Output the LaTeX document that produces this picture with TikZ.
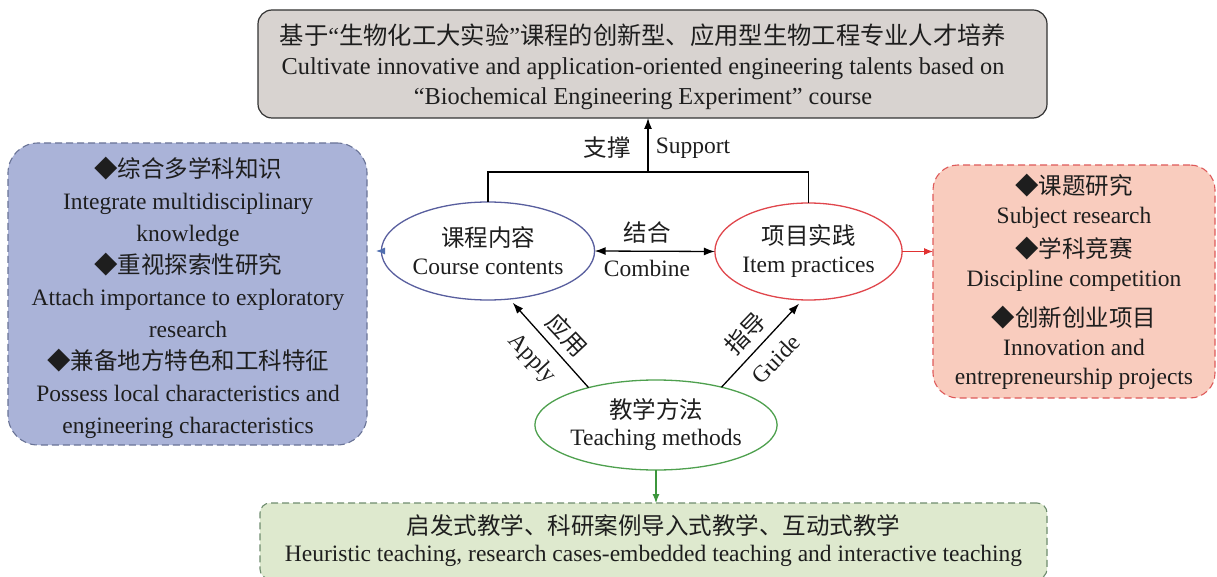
\documentclass[tikz,border=0pt]{standalone}
\usepackage{fontspec}
\setmainfont{Liberation Serif}
\newfontfamily\cjk{Noto Sans CJK SC}
\usetikzlibrary{shapes.geometric,arrows.meta}
\definecolor{txtcol}{RGB}{30,30,30}
\definecolor{topfill}{RGB}{216,211,208}
\definecolor{topdraw}{RGB}{50,50,50}
\definecolor{leftfill}{RGB}{170,179,216}
\definecolor{leftdraw}{RGB}{105,115,150}
\definecolor{rightfill}{RGB}{249,204,190}
\definecolor{rightdraw}{RGB}{222,90,90}
\definecolor{greenfill}{RGB}{222,233,206}
\definecolor{greendraw}{RGB}{110,140,110}
\definecolor{coursecol}{RGB}{88,94,158}
\definecolor{itemcol}{RGB}{224,70,76}
\definecolor{teachcol}{RGB}{78,160,78}
\definecolor{leftarr}{RGB}{80,110,175}
\definecolor{rightarr}{RGB}{225,50,50}
\definecolor{greenarr}{RGB}{60,150,60}
\begin{document}
\begin{tikzpicture}[x=1pt,y=-1pt,
  every node/.style={inner sep=0pt,outer sep=0pt,text=txtcol,align=center},
  topbox/.style={draw=topdraw,fill=topfill,line width=1.2pt,rounded corners=14pt},
  sidebox/.style={line width=1.1pt,dash pattern=on 7pt off 4pt},
  ell/.style={ellipse,line width=1.3pt,fill=white},
  conn/.style={line width=1.3pt,draw=black},
  arr/.style={-{Latex[length=11pt,width=8pt]}},
  carr/.style={line width=1.1pt,-{Latex[length=9pt,width=7pt]}},
  lbl/.style={font=\fontsize{23.5}{28}\selectfont}
]
\useasboundingbox (0,0) rectangle (1217,577);

% top box
\node[topbox,minimum width=789pt,minimum height=108pt] (top) at (652.5,64) {};
\node[font=\fontsize{24.3}{30}\selectfont] (toptext) at (643,67)
  {{\cjk 基于}“{\cjk 生物化工大实验}”{\cjk 课程的创新型、应用型生物工程专业人才培养}\\
   Cultivate innovative and application-oriented engineering talents based on\\
   “Biochemical Engineering Experiment” course};

% side boxes
\node[sidebox,draw=leftdraw,fill=leftfill,rounded corners=30pt,
  minimum width=359pt,minimum height=302pt] (left) at (187.5,294) {};
\node[font=\fontsize{23.5}{32}\selectfont] (lefttext) at (188,298)
  {{\cjk ◆综合多学科知识}\\
   Integrate multidisciplinary\\
   knowledge\\
   {\cjk ◆重视探索性研究}\\
   Attach importance to exploratory\\
   research\\
   {\cjk ◆兼备地方特色和工科特征}\\
   Possess local characteristics and\\
   engineering characteristics};

\node[sidebox,draw=rightdraw,fill=rightfill,rounded corners=25pt,
  minimum width=282pt,minimum height=233pt,font=\fontsize{23.5}{29}\selectfont]
  (right) at (1074,281.5)
  {{\cjk ◆课题研究}\\
   Subject research\\[5pt]
   {\cjk ◆学科竞赛}\\
   Discipline competition\\[11pt]
   {\cjk ◆创新创业项目}\\
   Innovation and\\
   entrepreneurship projects};

\node[sidebox,draw=greendraw,fill=greenfill,rounded corners=10pt,
  minimum width=787pt,minimum height=76pt,font=\fontsize{23.5}{27}\selectfont]
  (green) at (653.5,541)
  {{\cjk 启发式教学、科研案例导入式教学、互动式教学}\\
   Heuristic teaching, research cases-embedded teaching and interactive teaching};

% ellipses
\node[ell,draw=coursecol,minimum width=173pt,minimum height=98pt,
  font=\fontsize{23.5}{28}\selectfont] (course) at (488,251)
  {{\cjk 课程内容}\\Course contents};
\node[ell,draw=itemcol,minimum width=177pt,minimum height=97pt,
  font=\fontsize{23.5}{28}\selectfont] (item) at (808.5,251.5)
  {{\cjk 项目实践}\\Item practices};
\node[ell,draw=teachcol,minimum width=213pt,minimum height=90pt,
  font=\fontsize{23.5}{27}\selectfont] (teach) at (656,425)
  {{\cjk 教学方法}\\Teaching methods};

% support connector
\coordinate (jn) at (648,172);
\draw[conn] (course.north) |- (jn) -| (item.north);
\draw[conn,arr] (jn) -- (jn |- top.south);
\node[lbl] (zhicheng) at (607,148) {\cjk 支撑};
\node[lbl] (support) at (693,148) {Support};

% combine
\draw[conn,{Latex[length=11pt,width=8pt]}-{Latex[length=11pt,width=8pt]}]
  (course.east) -- (item.west);
\node[lbl] (jiehe) at (647,233) {\cjk 结合};
\node[lbl] (combine) at (647,268) {Combine};

% apply / guide
\draw[conn,arr,shorten >=5pt] (teach.151) -- (course.-66);
\draw[conn,arr,shorten >=5pt] (teach.30) -- (item.-97);
\node[lbl,rotate=-47] (yingyong) at (567,335) {\cjk 应用};
\node[lbl,rotate=-47] (apply) at (532,359) {Apply};
\node[lbl,rotate=46] (zhidao) at (745,333) {\cjk 指导};
\node[lbl,rotate=46] (guide) at (776,359) {Guide};

% coloured arrows
\draw[carr,draw=leftarr,shorten >=9pt]
  (course.west) -- (left.east |- course.west);
\draw[carr,draw=rightarr]
  (item.east) -- (right.west |- item.east);
\draw[carr,draw=greenarr]
  (teach.south) -- (teach.south |- green.north);
\end{tikzpicture}
\end{document}
